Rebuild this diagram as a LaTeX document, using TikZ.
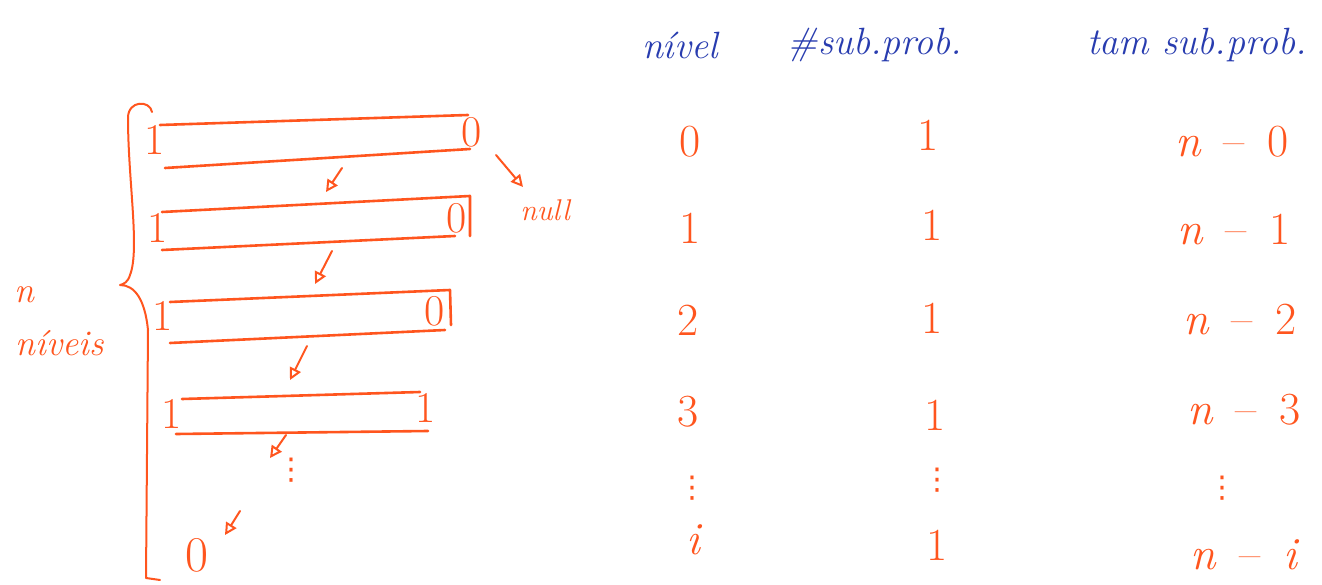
\documentclass[tikz,border=0pt]{standalone}
\usepackage{fontspec}
\newfontfamily\symfont{DejaVu Sans}
\usetikzlibrary{arrows.meta}
\definecolor{ink}{RGB}{255,85,30}
\definecolor{pen}{RGB}{40,60,175}
\begin{document}
\begin{tikzpicture}[x=1pt,y=-1pt,
  stroke/.style={draw=ink,line width=2.6pt,line cap=round,line join=round},
  thin stroke/.style={draw=ink,line width=2pt,line cap=round,line join=round},
  down/.style={thin stroke,-{Triangle[open,length=12pt,width=12pt]}},
  digit/.style={text=ink,font=\fontsize{44}{46}\selectfont,inner sep=0pt},
  cell/.style={text=ink,font=\fontsize{46}{48}\selectfont,inner sep=0pt},
  head/.style={text=pen,font=\itshape\fontsize{38}{40}\selectfont,inner sep=0pt},
  note/.style={text=ink,font=\itshape\fontsize{30}{32}\selectfont,inner sep=0pt},
  dots/.style={text=ink,font=\symfont\fontsize{30}{32}\selectfont,inner sep=0pt}]
\useasboundingbox (0,0) rectangle (1322,585);

% ---- bars ----
% bar 1
\coordinate (t1a) at (160,125); \coordinate (t1b) at (468,115);
\coordinate (u1a) at (165,168); \coordinate (u1b) at (470,149);
\node[digit] (l1) at (155,140) {1};
\node[digit] (r1) at (472,132) {0};
\draw[stroke] (t1a) -- (t1b);
\draw[stroke] (u1a) -- (u1b);
% bar 2
\coordinate (t2a) at (162,212); \coordinate (t2b) at (470,196);
\coordinate (u2a) at (162,250); \coordinate (u2b) at (455,236);
\coordinate (v2) at (470,236);
\node[digit] (l2) at (158,228) {1};
\node[digit] (r2) at (457,218) {0};
\draw[stroke] (t2a) -- (t2b) -- (v2);
\draw[stroke] (u2a) -- (u2b);
% bar 3
\coordinate (t3a) at (170,302); \coordinate (t3b) at (450,290);
\coordinate (u3a) at (170,343); \coordinate (u3b) at (445,330);
\coordinate (v3) at (451,325);
\node[digit] (l3) at (163,316) {1};
\node[digit] (r3) at (435,311) {0};
\draw[stroke] (t3a) -- (t3b) -- (v3);
\draw[stroke] (u3a) -- (u3b);
% bar 4
\coordinate (t4a) at (182,399); \coordinate (t4b) at (420,392);
\coordinate (u4a) at (176,434); \coordinate (u4b) at (428,431);
\node[digit] (l4) at (172,414) {1};
\node[digit] (r4) at (426,408) {1};
\draw[stroke] (t4a) -- (t4b);
\draw[stroke] (u4a) -- (u4b);

% ---- small arrows between levels ----
\coordinate (a1s) at (342,168); \coordinate (a1e) at (326,192);
\coordinate (a2s) at (332,251); \coordinate (a2e) at (315,284);
\coordinate (a3s) at (307,346); \coordinate (a3e) at (290,380);
\coordinate (a4s) at (286,435); \coordinate (a4e) at (270,458);
\coordinate (a5s) at (240,511); \coordinate (a5e) at (225,535);
\draw[down] (a1s) -- (a1e);
\draw[down] (a2s) -- (a2e);
\draw[down] (a3s) -- (a3e);
\draw[down] (a4s) -- (a4e);
\draw[down] (a5s) -- (a5e);
\node[dots] (vd) at (291,470) {⋮};
\node[digit,font=\fontsize{50}{52}\selectfont] (z) at (197,555) {0};

% null pointer
\coordinate (ns) at (496,155);
\coordinate (ne) at (523,187);
\node[note] (null) at (545,210) {null};
\draw[down] (ns) -- (ne);

% ---- brace ----
\coordinate (btop) at (152,112);
\coordinate (btip) at (120,285);
\coordinate (bbot) at (160,580);
\draw[thin stroke] (btop) .. controls (150,100) and (128,100) .. (128,118)
  .. controls (128,180) and (140,250) .. (130,275)
  .. controls (128,282) and (124,284) .. (btip)
  .. controls (135,285) and (145,300) .. (148,330)
  -- (146,578) -- (bbot);
\node[note,font=\itshape\fontsize{36}{38}\selectfont] (nl) at (24,295) {n};
\node[note,font=\itshape\fontsize{36}{38}\selectfont] (nv) at (60,343) {níveis};

% ---- table ----
\node[head] (h1) at (680,45) {nível};
\node[head] (h2) at (875,45) {\#sub.prob.};
\node[head] (h3) at (1197,45) {tam sub.prob.};

\node[cell] (c10) at (690,142) {0};
\node[cell] (c11) at (690,228) {1};
\node[cell] (c12) at (688,320) {2};
\node[cell] (c13) at (688,412) {3};
\node[dots] (c14) at (692,488) {⋮};
\node[cell] (c15) at (693,540) {\itshape i};

\node[cell] (c20) at (928,135) {1};
\node[cell] (c21) at (932,225) {1};
\node[cell] (c22) at (932,318) {1};
\node[cell] (c23) at (935,415) {1};
\node[dots] (c24) at (937,480) {⋮};
\node[cell] (c25) at (937,545) {1};

\node[cell] (c30) at (1232,142) {\itshape n\upshape\enspace–\enspace0};
\node[cell] (c31) at (1234,230) {\itshape n\upshape\enspace–\enspace1};
\node[cell] (c32) at (1240,320) {\itshape n\upshape\enspace–\enspace2};
\node[cell] (c33) at (1244,410) {\itshape n\upshape\enspace–\enspace3};
\node[dots] (c34) at (1222,488) {⋮};
\node[cell] (c35) at (1244,555) {\itshape n\upshape\enspace–\enspace\itshape i};
\end{tikzpicture}
\end{document}
